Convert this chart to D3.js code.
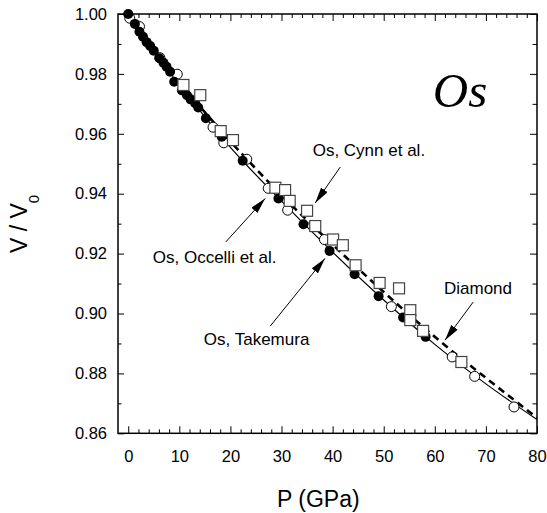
<!DOCTYPE html>
<html>
<head>
<meta charset="utf-8">
<script src="https://cdn.jsdelivr.net/npm/d3@7"></script>
<style>
  body { margin: 0; background: #fff; }
  text { font-family: "Liberation Sans", Arial, Helvetica, sans-serif; }
</style>
</head>
<body>
<div id="chart"></div>
<script>
// Os, Takemura (filled circles)
var takemuraP = [0, 1.3, 2.2, 2.9, 3.6, 4.3, 5.0, 6.1, 6.9, 7.5, 8.2, 9.0, 10.5, 11.5, 12.2, 13.1, 13.7, 15.2, 18.3, 22.4, 29.4, 34.3, 39.4, 44.3, 49.0, 53.8, 58.2];
var takemuraV = [1.000, 0.9967, 0.9941, 0.9924, 0.9906, 0.9893, 0.9877, 0.9852, 0.9837, 0.9824, 0.9807, 0.9774, 0.9745, 0.9729, 0.9715, 0.9702, 0.9688, 0.9652, 0.9590, 0.9510, 0.9384, 0.9298, 0.9209, 0.9131, 0.9058, 0.8987, 0.8922];
// Os, Occelli et al. (open circles)
var occelliP = [0.3, 2.2, 6.2, 9.6, 16.6, 18.7, 23.2, 27.4, 31.2, 38.4, 51.5, 63.4, 67.8, 75.5];
var occelliV = [0.9986, 0.9958, 0.9854, 0.9799, 0.9622, 0.9570, 0.9515, 0.9418, 0.9345, 0.9247, 0.9023, 0.8855, 0.8790, 0.8688];
// Os, Cynn et al. (open squares)
var cynnP = [10.8, 14.1, 18.1, 20.5, 28.8, 30.7, 31.6, 35.0, 36.6, 40.1, 42.0, 44.5, 49.2, 53.0, 55.2, 55.2, 57.7, 65.2];
var cynnV = [0.9763, 0.9729, 0.9609, 0.9579, 0.9420, 0.9412, 0.9376, 0.9343, 0.9292, 0.9247, 0.9228, 0.9161, 0.9102, 0.9084, 0.9011, 0.8978, 0.8942, 0.8838];
// fit curve through Os data (solid) and diamond curve (dashed)
var fitP = [0, 10, 20, 30, 40, 50, 60, 70, 80];
var fitV = [1.000, 0.9765, 0.9555, 0.9375, 0.9205, 0.9045, 0.8897, 0.8765, 0.8646];
var diamondP = [0, 10, 20, 30, 40, 50, 60, 70, 80];
var diamondV = [1.000, 0.9775, 0.9575, 0.9395, 0.9230, 0.9072, 0.8922, 0.8785, 0.8652];

var xMajor = [0, 10, 20, 30, 40, 50, 60, 70, 80];
var yMajor = [0.86, 0.88, 0.90, 0.92, 0.94, 0.96, 0.98, 1.00];

var width = 547, height = 513;
var margin = {top: 14, right: 10, bottom: 80, left: 118};
var w = 537 - margin.left, h = 433.3 - margin.top;

var svg = d3.select("#chart").append("svg")
    .attr("width", width)
    .attr("height", height);

var g = svg.append("g").attr("transform", "translate(" + margin.left + "," + margin.top + ")");

var x = d3.scaleLinear().domain([-2, 80]).range([0, w]);
var y = d3.scaleLinear().domain([0.86, 1.00]).range([h, 0]);

function zip(a, b) { return a.map(function(d, i) { return {p: d, v: b[i]}; }); }

var xMinor = d3.range(2, 80, 2).filter(function(d) { return d % 10 != 0; });
var yMinor = d3.range(0.87, 1.0, 0.02);

// axes (ticks inward, labels on bottom & left)
function styleAxis(sel) {
    sel.select(".domain").remove();
    sel.selectAll("line").attr("stroke", "#000").attr("stroke-width", 1);
    sel.selectAll("text").style("font-size", "16.5px").attr("fill", "#000");
}

g.append("g").attr("transform", "translate(0," + h + ")")
    .call(d3.axisBottom(x).tickValues(xMajor).tickSizeInner(-7).tickSizeOuter(0).tickPadding(17).tickFormat(d3.format("d")))
    .call(styleAxis);
g.append("g").attr("transform", "translate(0," + h + ")")
    .call(d3.axisBottom(x).tickValues(xMinor).tickSize(-4).tickFormat(""))
    .call(styleAxis);
g.append("g")
    .call(d3.axisTop(x).tickValues(xMajor).tickSize(-7).tickFormat(""))
    .call(styleAxis);
g.append("g")
    .call(d3.axisTop(x).tickValues(xMinor).tickSize(-4).tickFormat(""))
    .call(styleAxis);

g.append("g")
    .call(d3.axisLeft(y).tickValues(yMajor).tickSizeInner(-6).tickSizeOuter(0).tickPadding(11).tickFormat(d3.format(".2f")))
    .call(styleAxis);
g.append("g")
    .call(d3.axisLeft(y).tickValues(yMinor).tickSize(-3.5).tickFormat(""))
    .call(styleAxis);
g.append("g").attr("transform", "translate(" + w + ",0)")
    .call(d3.axisRight(y).tickValues(yMajor).tickSize(-7).tickFormat(""))
    .call(styleAxis);
g.append("g").attr("transform", "translate(" + w + ",0)")
    .call(d3.axisRight(y).tickValues(yMinor).tickSize(-4.5).tickFormat(""))
    .call(styleAxis);

// frame
g.append("rect")
    .attr("width", w).attr("height", h)
    .attr("fill", "none").attr("stroke", "#000").attr("stroke-width", 1.5);

var clip = svg.append("clipPath").attr("id", "clip")
    .append("rect").attr("width", w).attr("height", h);

var line = d3.line()
    .x(function(d) { return x(d.p); })
    .y(function(d) { return y(d.v); })
    .curve(d3.curveMonotoneX);

var plot = g.append("g").attr("clip-path", "url(#clip)");

plot.append("path")
    .datum(zip(fitP, fitV))
    .attr("d", line)
    .attr("fill", "none")
    .attr("stroke", "#000")
    .attr("stroke-width", 1.2);

plot.append("path")
    .datum(zip(diamondP, diamondV))
    .attr("d", line)
    .attr("fill", "none")
    .attr("stroke", "#000")
    .attr("stroke-width", 2.6)
    .attr("stroke-dasharray", "7,5");

g.selectAll(".occelli")
    .data(zip(occelliP, occelliV))
    .enter().append("circle")
    .attr("class", "occelli")
    .attr("cx", function(d) { return x(d.p); })
    .attr("cy", function(d) { return y(d.v); })
    .attr("r", 5)
    .attr("fill", "#fff")
    .attr("stroke", "#000")
    .attr("stroke-width", 1);

g.selectAll(".takemura")
    .data(zip(takemuraP, takemuraV))
    .enter().append("circle")
    .attr("class", "takemura")
    .attr("cx", function(d) { return x(d.p); })
    .attr("cy", function(d) { return y(d.v); })
    .attr("r", 5)
    .attr("fill", "#000");

g.selectAll(".cynn")
    .data(zip(cynnP, cynnV))
    .enter().append("rect")
    .attr("class", "cynn")
    .attr("x", function(d) { return x(d.p) - 5.5; })
    .attr("y", function(d) { return y(d.v) - 5.5; })
    .attr("width", 11)
    .attr("height", 11)
    .attr("fill", "#fff")
    .attr("stroke", "#444")
    .attr("stroke-width", 1.2);

// arrows and labels
svg.append("defs").append("marker")
    .attr("id", "head")
    .attr("viewBox", "0 0 16 8")
    .attr("refX", 16).attr("refY", 4)
    .attr("markerUnits", "userSpaceOnUse")
    .attr("markerWidth", 16).attr("markerHeight", 8)
    .attr("orient", "auto")
    .append("path").attr("d", "M0,0 L16,4 L0,8 Z").attr("fill", "#000");

var notes = [
    {text: "Os, Cynn et al.", tx: 36.1, ty: 0.9526, x1: 41.5, y1: 0.9489, x2: 36.6, y2: 0.9369},
    {text: "Os, Occelli et al.", tx: 4.8, ty: 0.9170, x1: 19.1, y1: 0.9239, x2: 26.8, y2: 0.9384},
    {text: "Os, Takemura", tx: 14.8, ty: 0.8894, x1: 27.8, y1: 0.8958, x2: 38.5, y2: 0.9184},
    {text: "Diamond", tx: 61.8, ty: 0.9066, x1: 67.5, y1: 0.9038, x2: 62.0, y2: 0.8911}
];

notes.forEach(function(n) {
    g.append("line")
        .attr("x1", x(n.x1)).attr("y1", y(n.y1))
        .attr("x2", x(n.x2)).attr("y2", y(n.y2))
        .attr("stroke", "#000").attr("stroke-width", 1)
        .attr("marker-end", "url(#head)");
    g.append("text")
        .attr("x", x(n.tx)).attr("y", y(n.ty))
        .style("font-size", "17px")
        .text(n.text);
});

g.append("text")
    .attr("x", x(59.6)).attr("y", y(0.9689))
    .style("font-family", "'Liberation Serif', 'Times New Roman', serif")
    .style("font-style", "italic")
    .style("font-size", "49px")
    .text("Os");

// axis titles
svg.append("text")
    .attr("x", 277).attr("y", 507)
    .style("font-size", "23px")
    .text("P (GPa)");

var yl = svg.append("text")
    .attr("transform", "translate(27,253) rotate(-90)")
    .style("font-size", "23px");
yl.append("tspan").text("V / V");
yl.append("tspan").attr("dy", 12).style("font-size", "15px").text("0");
</script>
</body>
</html>
